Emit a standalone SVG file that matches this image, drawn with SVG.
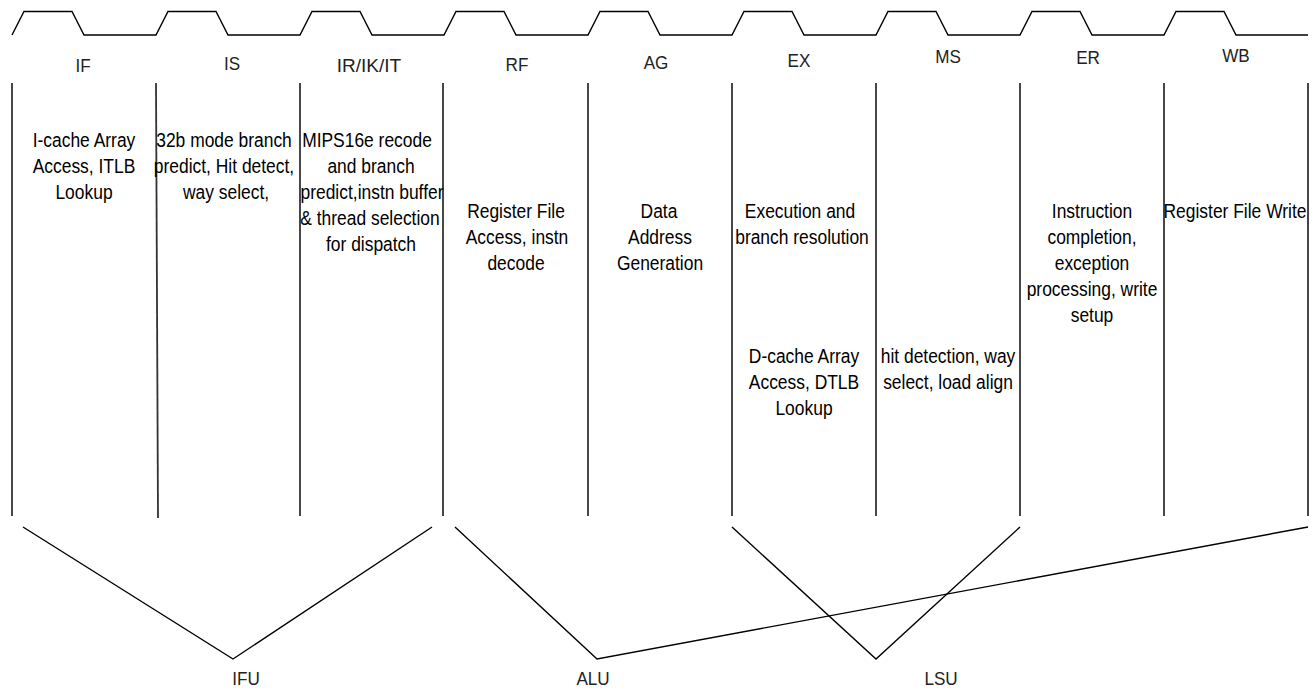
<svg xmlns="http://www.w3.org/2000/svg" width="1316" height="689" viewBox="0 0 1316 689">
  <style>
    .bg { fill: #ffffff; }
    .clk { fill: none; stroke: #000; stroke-width: 1.4; stroke-linejoin: miter; }
    .div { fill: none; stroke: #333; stroke-width: 1.8; }
    .link { fill: none; stroke: #000; stroke-width: 1.4; }
    .t { font-family: "Liberation Sans", Arial, sans-serif; font-size: 21px; text-anchor: middle; fill: #000; }
    .h { font-family: "Liberation Sans", Arial, sans-serif; font-size: 19px; text-anchor: middle; fill: #222; }
    .u { font-family: "Liberation Sans", Arial, sans-serif; font-size: 19px; text-anchor: middle; fill: #222; }
  </style>

  <rect class="bg" x="0" y="0" width="1316" height="689"/>

  <!-- clock waveform: one pulse per 144px stage -->
  <g id="clock">
    <path class="clk" d="M12,35 L24,11.5 L72,11.5 L84,35 L156,35
      L168,11.5 L216,11.5 L228,35 L300,35
      L312,11.5 L360,11.5 L372,35 L444,35
      L456,11.5 L504,11.5 L516,35 L588,35
      L600,11.5 L648,11.5 L660,35 L732,35
      L744,11.5 L792,11.5 L804,35 L876,35
      L888,11.5 L936,11.5 L948,35 L1020,35
      L1032,11.5 L1080,11.5 L1092,35 L1164,35
      L1176,11.5 L1224,11.5 L1236,35 L1308,35"/>
  </g>

  <!-- stage boundaries -->
  <g id="dividers">
    <line class="div" x1="12" y1="83" x2="12" y2="516"/>
    <line class="div" x1="156" y1="83" x2="158" y2="518"/>
    <line class="div" x1="300" y1="83" x2="300" y2="516"/>
    <line class="div" x1="443" y1="83" x2="443" y2="516"/>
    <line class="div" x1="588" y1="83" x2="588" y2="516"/>
    <line class="div" x1="732" y1="83" x2="732" y2="516"/>
    <line class="div" x1="876" y1="83" x2="876" y2="516"/>
    <line class="div" x1="1020" y1="83" x2="1020" y2="516"/>
    <line class="div" x1="1164" y1="83" x2="1164" y2="516"/>
    <line class="div" x1="1308" y1="83" x2="1308" y2="516"/>
  </g>

  <!-- pipeline stages (text condensed horizontally) -->
  <g id="stage-IF">
    <text class="h" transform="translate(83 72) scale(.9 1)">IF</text>
    <text class="t" transform="translate(84 147) scale(.83 1)">I-cache Array</text>
    <text class="t" transform="translate(84 173) scale(.83 1)">Access, ITLB</text>
    <text class="t" transform="translate(84 199) scale(.83 1)">Lookup</text>
  </g>
  <g id="stage-IS">
    <text class="h" transform="translate(232 70) scale(.9 1)">IS</text>
    <text class="t" transform="translate(224 147) scale(.83 1)">32b mode branch</text>
    <text class="t" transform="translate(224 173) scale(.83 1)">predict, Hit detect,</text>
    <text class="t" transform="translate(226 199) scale(.83 1)">way select,</text>
  </g>
  <g id="stage-IR">
    <text class="h" transform="translate(369 72) scale(1 1)">IR/IK/IT</text>
    <text class="t" transform="translate(367 147) scale(.83 1)">MIPS16e recode</text>
    <text class="t" transform="translate(371 173) scale(.83 1)">and branch</text>
    <text class="t" transform="translate(372 199) scale(.83 1)">predict,instn buffer</text>
    <text class="t" transform="translate(370 225) scale(.83 1)">&amp; thread selection</text>
    <text class="t" transform="translate(371 251) scale(.83 1)">for dispatch</text>
  </g>
  <g id="stage-RF">
    <text class="h" transform="translate(517 71) scale(.9 1)">RF</text>
    <text class="t" transform="translate(516 218) scale(.83 1)">Register File</text>
    <text class="t" transform="translate(517 244) scale(.83 1)">Access, instn</text>
    <text class="t" transform="translate(516 270) scale(.83 1)">decode</text>
  </g>
  <g id="stage-AG">
    <text class="h" transform="translate(656 69) scale(.9 1)">AG</text>
    <text class="t" transform="translate(659 218) scale(.83 1)">Data</text>
    <text class="t" transform="translate(660 244) scale(.83 1)">Address</text>
    <text class="t" transform="translate(660 270) scale(.83 1)">Generation</text>
  </g>
  <g id="stage-EX">
    <text class="h" transform="translate(799 67) scale(.9 1)">EX</text>
    <text class="t" transform="translate(800 218) scale(.83 1)">Execution and</text>
    <text class="t" transform="translate(802 244) scale(.83 1)">branch resolution</text>
    <text class="t" transform="translate(804 363) scale(.83 1)">D-cache Array</text>
    <text class="t" transform="translate(804 389) scale(.83 1)">Access, DTLB</text>
    <text class="t" transform="translate(804 415) scale(.83 1)">Lookup</text>
  </g>
  <g id="stage-MS">
    <text class="h" transform="translate(948 63) scale(.9 1)">MS</text>
    <text class="t" transform="translate(948 363) scale(.83 1)">hit detection, way</text>
    <text class="t" transform="translate(948 389) scale(.83 1)">select, load align</text>
  </g>
  <g id="stage-ER">
    <text class="h" transform="translate(1088 64) scale(.9 1)">ER</text>
    <text class="t" transform="translate(1092 218) scale(.83 1)">Instruction</text>
    <text class="t" transform="translate(1092 244) scale(.83 1)">completion,</text>
    <text class="t" transform="translate(1092 270) scale(.83 1)">exception</text>
    <text class="t" transform="translate(1092 296) scale(.83 1)">processing, write</text>
    <text class="t" transform="translate(1092 322) scale(.83 1)">setup</text>
  </g>
  <g id="stage-WB">
    <text class="h" transform="translate(1236 62) scale(.9 1)">WB</text>
    <text class="t" transform="translate(1235 218) scale(.83 1)">Register File Write</text>
  </g>

  <!-- functional units -->
  <g id="unit-IFU">
    <text class="u" transform="translate(246 685) scale(.9 1)">IFU</text>
  </g>
  <g id="unit-ALU">
    <text class="u" transform="translate(593 685) scale(.9 1)">ALU</text>
  </g>
  <g id="unit-LSU">
    <text class="u" transform="translate(941 685) scale(.9 1)">LSU</text>
  </g>

  <!-- stage-to-unit connectors -->
  <g id="connectors">
    <polyline class="link" points="23,527 233,659 432,527"/>
    <polyline class="link" points="455,527 597,659 1308,527"/>
    <polyline class="link" points="732,527 876,659 1020,527"/>
  </g>
</svg>
